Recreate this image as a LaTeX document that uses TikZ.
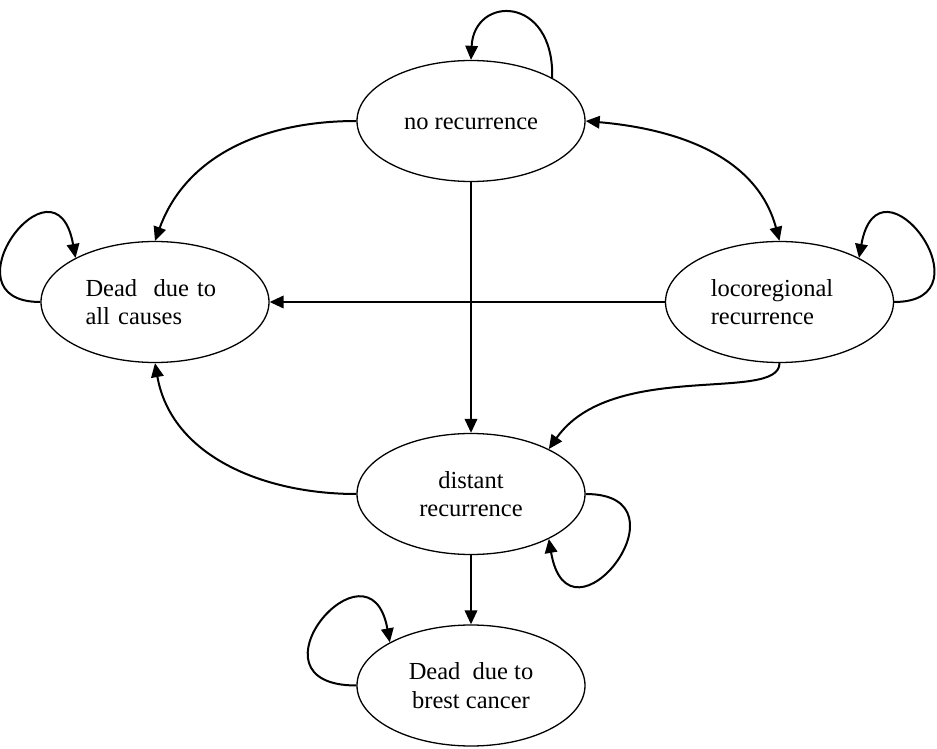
\documentclass[tikz,border=0pt]{standalone}
\usepackage{fontspec}
\setmainfont{Liberation Serif}
\usetikzlibrary{shapes.geometric,arrows.meta}
\begin{document}
\begin{tikzpicture}[x=1pt,y=1pt,
  state/.style={draw=black,line width=1.3pt,ellipse,minimum width=228pt,minimum height=121pt,inner sep=0pt,
    font=\fontsize{24.5}{28.3}\selectfont},
  conn/.style={line width=2pt,-{Triangle[length=14pt,width=12.5pt]}},
  dconn/.style={line width=2pt,{Triangle[length=14pt,width=12.5pt]}-{Triangle[length=14pt,width=12.5pt]}}]
\useasboundingbox (0,0) rectangle (937,748);
\node[state,text height=17pt,text depth=0pt] (nr) at (471,627) {no recurrence};
\node[state,align=left,text width=139pt] (dac) at (155,446) {Dead\ \ due to\\all causes};
\node[state,align=left,text width=137.5pt] (lr) at (779.5,446) {locoregional\\recurrence};
\node[state,align=center] (dr) at (471,254) {distant\\recurrence};
\node[state,align=center] (bc) at (471,62.5) {Dead\ \ due to\\brest cancer};
% connectors
\draw[conn] (nr.west) to[out=180,in=70] (dac.north);
\draw[dconn] (nr.east) to[out=-5,in=105] (lr.north);
\draw[conn] (nr.south) -- (dr.north);
\draw[conn] (lr.west) -- (dac.east);
\draw[conn] (lr.south) .. controls +(0,-40) and +(63,90) .. (dr.30);
\draw[conn] (dr.west) to[out=180,in=-80] (dac.south);
\draw[conn] (dr.south) -- (bc.north);
% self loops
\draw[conn] (nr.28) .. controls +(2,83) and +(3,65) .. (nr.north);
\draw[conn] (dac.west) .. controls +(-100,0) and +(-20,112) .. (dac.151);
\draw[conn] (lr.east) .. controls +(100,0) and +(20,112) .. (lr.29);
\draw[conn] (dr.east) .. controls +(110,0) and +(20,-118) .. (dr.-30);
\draw[conn] (bc.west) .. controls +(-118,0) and +(-20,112) .. (bc.152);
\end{tikzpicture}
\end{document}
